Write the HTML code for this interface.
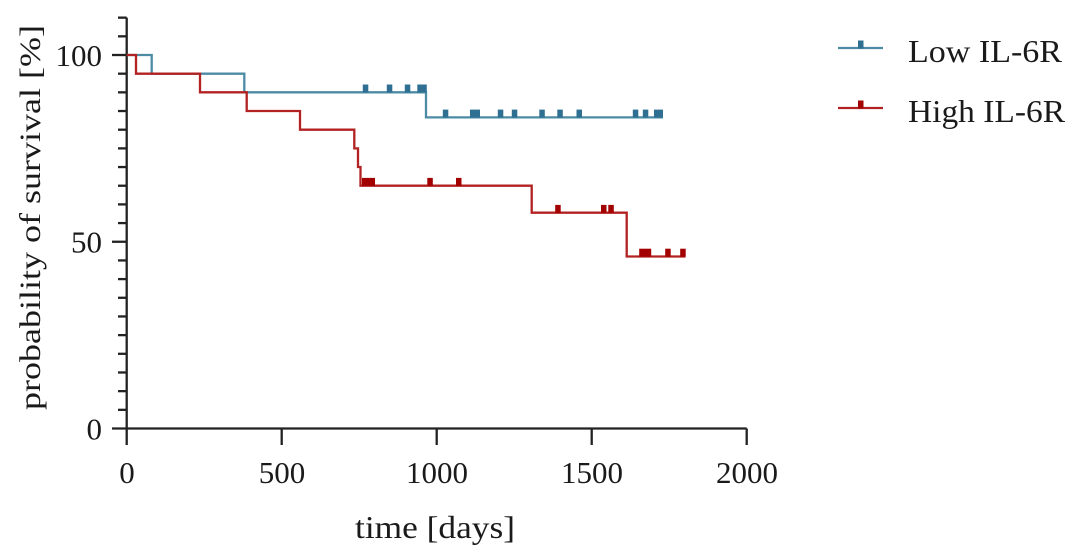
<!DOCTYPE html>
<html>
<head>
<meta charset="utf-8">
<style>
  html, body { margin: 0; padding: 0; background: #ffffff; }
  body { width: 1080px; height: 558px; overflow: hidden; }
  svg { display: block; }
  text { font-family: "Liberation Serif", "DejaVu Serif", serif; fill: #1a1a1a; }
</style>
</head>
<body>
<svg width="1080" height="558" viewBox="0 0 1080 558" xmlns="http://www.w3.org/2000/svg">
  <!-- Axes -->
  <g stroke="#222" stroke-width="2.3" fill="none">
    <line x1="126.7" y1="17.6" x2="126.7" y2="445"/>
    <line x1="112" y1="428.5" x2="746.7" y2="428.5"/>
    <line x1="281.7" y1="428.5" x2="281.7" y2="445"/>
    <line x1="436.7" y1="428.5" x2="436.7" y2="445"/>
    <line x1="591.7" y1="428.5" x2="591.7" y2="445"/>
    <line x1="746.7" y1="428.5" x2="746.7" y2="445"/>
    <line x1="112" y1="55" x2="126.7" y2="55"/>
    <line x1="112" y1="241.75" x2="126.7" y2="241.75"/>
    <line x1="118" y1="17.65" x2="126.7" y2="17.65"/>
    <line x1="118" y1="36.33" x2="126.7" y2="36.33"/>
    <line x1="118" y1="73.68" x2="126.7" y2="73.68"/>
    <line x1="118" y1="92.35" x2="126.7" y2="92.35"/>
    <line x1="118" y1="111.03" x2="126.7" y2="111.03"/>
    <line x1="118" y1="129.7" x2="126.7" y2="129.7"/>
    <line x1="118" y1="148.38" x2="126.7" y2="148.38"/>
    <line x1="118" y1="167.05" x2="126.7" y2="167.05"/>
    <line x1="118" y1="185.73" x2="126.7" y2="185.73"/>
    <line x1="118" y1="204.4" x2="126.7" y2="204.4"/>
    <line x1="118" y1="223.08" x2="126.7" y2="223.08"/>
    <line x1="118" y1="260.43" x2="126.7" y2="260.43"/>
    <line x1="118" y1="279.1" x2="126.7" y2="279.1"/>
    <line x1="118" y1="297.78" x2="126.7" y2="297.78"/>
    <line x1="118" y1="316.45" x2="126.7" y2="316.45"/>
    <line x1="118" y1="335.13" x2="126.7" y2="335.13"/>
    <line x1="118" y1="353.8" x2="126.7" y2="353.8"/>
    <line x1="118" y1="372.48" x2="126.7" y2="372.48"/>
    <line x1="118" y1="391.15" x2="126.7" y2="391.15"/>
    <line x1="118" y1="409.83" x2="126.7" y2="409.83"/>
  </g>

  <!-- Y tick labels -->
  <g font-size="31" text-anchor="end">
    <text x="102" y="66">100</text>
    <text x="102" y="252.5">50</text>
    <text x="102" y="439.5">0</text>
  </g>

  <!-- X tick labels -->
  <g font-size="31" text-anchor="middle">
    <text x="127" y="483">0</text>
    <text x="282" y="483">500</text>
    <text x="437" y="483">1000</text>
    <text x="592" y="483">1500</text>
    <text x="747" y="483">2000</text>
  </g>

  <!-- Axis titles -->
  <text x="355" y="538" font-size="32" textLength="160" lengthAdjust="spacingAndGlyphs">time [days]</text>
  <text transform="translate(40,410) rotate(-90)" x="0" y="0" font-size="30" textLength="385" lengthAdjust="spacingAndGlyphs">probability of survival [%]</text>

  <!-- Blue curve (Low IL-6R) -->
  <path d="M126.7,55 H151.7 V73.7 H244.3 V92.3 H426 V117.4 H663" fill="none" stroke="#4d8ba5" stroke-width="2.3"/>
  <g fill="#2f7092">
    <rect x="362.8" y="84.5" width="5.5" height="8"/>
    <rect x="386.8" y="84.5" width="5.5" height="8"/>
    <rect x="404.8" y="84.5" width="5.5" height="8"/>
    <rect x="417.3" y="84.5" width="9.5" height="8"/>
    <rect x="442.8" y="109.6" width="5.5" height="8"/>
    <rect x="470" y="109.6" width="10" height="8"/>
    <rect x="497.8" y="109.6" width="5.5" height="8"/>
    <rect x="511.8" y="109.6" width="5.5" height="8"/>
    <rect x="539.3" y="109.6" width="5.5" height="8"/>
    <rect x="557.3" y="109.6" width="5.5" height="8"/>
    <rect x="576.5" y="109.6" width="5.5" height="8"/>
    <rect x="632.8" y="109.6" width="5.5" height="8"/>
    <rect x="642.8" y="109.6" width="5.5" height="8"/>
    <rect x="654" y="109.6" width="9" height="8"/>
  </g>

  <!-- Red curve (High IL-6R) -->
  <path d="M126.7,55 H136 V73.7 H200 V92.3 H246.7 V111 H300 V129.7 H354.3 V148.4 H358 V167 H360.5 V185.7 H531.7 V212.7 H626.7 V256.5 H685.5" fill="none" stroke="#b32222" stroke-width="2.3"/>
  <g fill="#a30000">
    <rect x="362" y="177.9" width="13" height="8"/>
    <rect x="427.3" y="177.9" width="5.5" height="8"/>
    <rect x="456" y="177.9" width="5.5" height="8"/>
    <rect x="555.2" y="204.9" width="5.5" height="8"/>
    <rect x="601" y="204.9" width="5.5" height="8"/>
    <rect x="608.3" y="204.9" width="5.5" height="8"/>
    <rect x="639.2" y="248.7" width="12" height="8"/>
    <rect x="665.2" y="248.7" width="5.5" height="8"/>
    <rect x="680.2" y="248.7" width="5.5" height="8"/>
  </g>

  <!-- Legend -->
  <line x1="838" y1="48" x2="883" y2="48" stroke="#4d8ba5" stroke-width="2.3"/>
  <rect x="858" y="40.5" width="5.5" height="8" fill="#2f7092"/>
  <text x="908" y="62" font-size="32" textLength="154" lengthAdjust="spacingAndGlyphs">Low IL-6R</text>

  <line x1="838" y1="108" x2="883" y2="108" stroke="#b32222" stroke-width="2.3"/>
  <rect x="858" y="100.5" width="5.5" height="8" fill="#a30000"/>
  <text x="908" y="122" font-size="32" textLength="157" lengthAdjust="spacingAndGlyphs">High IL-6R</text>
</svg>
</body>
</html>
